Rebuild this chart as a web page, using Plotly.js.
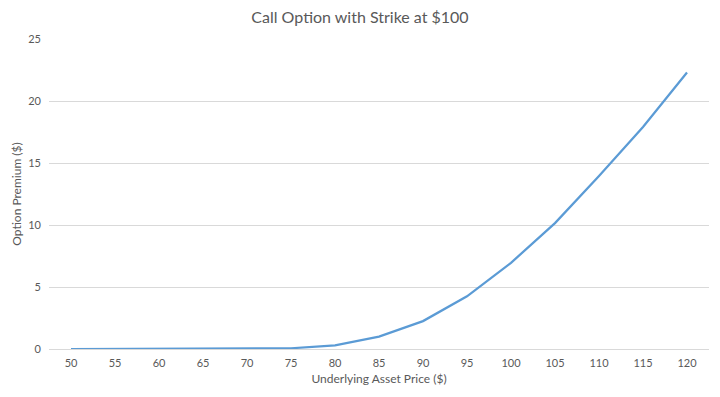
<!DOCTYPE html>
<html>
<head>
<meta charset="utf-8">
<script src="https://cdn.plot.ly/plotly-3.0.1.min.js"></script>
<style>html,body{margin:0;padding:0;background:#fff;}#chart{width:720px;height:397px;}</style>
</head>
<body>
<div id="chart"></div>
<script>
const prices = ["50","55","60","65","70","75","80","85","90","95","100","105","110","115","120"];
const premiums = [0, 0, 0, 0, 0.01, 0.06, 0.3, 1.0, 2.25, 4.25, 6.95, 10.15, 13.95, 17.9, 22.3];
const yTicks = [0, 5, 10, 15, 20, 25];

const font = "Lato, 'Open Sans', sans-serif";
Plotly.newPlot('chart', [{
  x: prices,
  y: premiums,
  type: 'scatter',
  mode: 'lines',
  line: {color: '#5B9BD5', width: 2.25},
  hoverinfo: 'skip'
}], {
  width: 720, height: 397,
  margin: {l: 49, r: 11, t: 39, b: 48},
  paper_bgcolor: '#fff', plot_bgcolor: '#fff',
  showlegend: false,
  font: {family: font, color: '#595959', size: 11},
  title: {text: 'Call Option with Strike at $100', font: {family: font, size: 16, color: '#595959'}, x: 0.5, xanchor: 'center', y: 0.955, yanchor: 'middle'},
  xaxis: {
    type: 'category', range: [-0.5, 14.5],
    showgrid: false, zeroline: false,
    showline: true, linecolor: '#d9d9d9', linewidth: 1,
    ticks: '', ticklabelstandoff: 4, tickfont: {size: 11, color: '#595959'},
    title: {text: 'Underlying Asset Price ($)', font: {size: 12, color: '#595959'}, standoff: 6}
  },
  yaxis: {
    range: [0, 25], tickvals: yTicks, ticktext: yTicks.map(String),
    showgrid: true, gridcolor: '#d9d9d9', gridwidth: 1,
    zeroline: false, showline: false, ticks: '', ticklabelstandoff: 7,
    tickfont: {size: 11, color: '#595959'},
    title: {text: 'Option Premium ($)', font: {size: 12, color: '#595959'}, standoff: 4}
  }
}, {staticPlot: true});
</script>
</body>
</html>
